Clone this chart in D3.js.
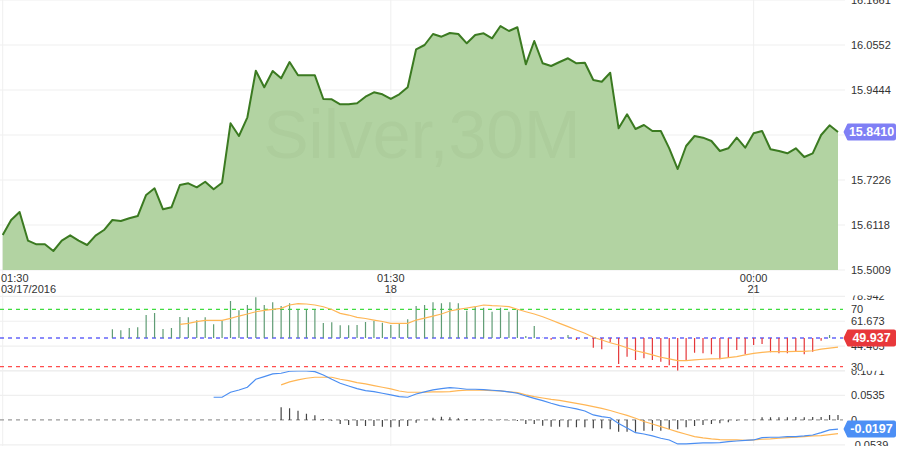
<!DOCTYPE html>
<html>
<head>
<meta charset="utf-8">
<script src="https://cdn.jsdelivr.net/npm/d3@7"></script>
<style>
html,body{margin:0;padding:0;background:#fff;}
svg{display:block;font-family:"Liberation Sans",Arial,sans-serif;}
</style>
</head>
<body>
<svg id="chart" width="900" height="451"></svg>
<script>
// ---------------- DATA ----------------
const symbolLabel = "Silver,30M";
const price = [
15.5871,15.6241,15.6438,15.5731,15.5642,15.5642,15.5477,15.5731,15.5864,15.5731,
15.5625,15.5854,15.5994,15.6241,15.6216,15.6283,15.6339,15.6857,15.7022,15.6504,
15.6554,15.7103,15.7145,15.7046,15.7184,15.6997,15.7160,15.8623,15.8310,15.8771,
15.9919,15.9510,15.9912,15.9732,16.0133,15.9806,15.9806,15.9806,15.9222,15.9215,
15.9091,15.9091,15.9116,15.9279,15.9387,15.9338,15.9222,15.9338,15.9510,16.0446,
16.0552,16.0823,16.0757,16.0848,16.0823,16.0594,16.0799,16.0841,16.0717,16.1020,
16.0897,16.0989,16.0077,16.0651,16.0101,16.0035,16.0133,16.0225,16.0101,16.0116,
15.9690,15.9648,15.9870,15.8500,15.8845,15.8483,15.8581,15.8434,15.8434,15.8007,
15.7497,15.8064,15.8310,15.8269,15.8187,15.7941,15.8007,15.8269,15.8022,15.8377,
15.8434,15.7983,15.7941,15.7884,15.8007,15.7793,15.7884,15.8335,15.8574,15.8410
];
const rsi = [
null,null,null,null,null,null,null,null,null,null,null,null,null,
56.1,55.4,57.0,57.5,66.0,67.4,56.3,57.0,64.6,64.4,62.3,64.4,59.5,62.1,75.8,69.3,73.0,
78.4,73.0,74.9,72.3,74.2,70.0,70.0,70.0,60.5,60.9,58.9,58.9,59.1,61.1,61.8,60.7,59.1,
60.2,63.0,72.3,73.0,74.9,74.2,74.9,74.2,69.0,71.8,71.1,68.3,71.1,68.3,69.5,51.4,58.4,
50.2,48.8,50.2,52.1,48.6,50.2,43.2,42.2,47.0,31.9,37.0,34.7,35.9,34.7,33.5,31.0,27.2,
34.7,39.8,39.3,38.6,35.2,36.6,41.6,38.6,45.1,45.8,40.0,39.3,39.3,40.5,38.6,40.5,48.1,
52.1,49.937
];
const rsiMA = [
null,null,null,null,null,null,null,null,null,null,null,null,null,null,null,null,null,null,null,null,null,
59.5,60.2,61.4,62.3,62.3,62.3,63.7,65.3,66.7,68.3,
69.3,70.0,70.7,73.0,73.9,73.7,73.0,71.8,69.9,67.2,
66.0,64.4,63.6,62.5,61.5,60.2,60.2,60.2,62.5,63.9,
65.3,66.7,68.8,70.0,70.9,71.8,73.0,72.5,72.3,71.8,
70.0,68.3,66.7,64.8,62.5,60.2,57.9,55.6,53.3,50.5,
48.6,46.7,45.1,43.2,41.1,39.8,38.2,36.6,35.4,34.2,
34.2,34.7,35.2,35.4,35.6,36.3,37.0,38.2,39.3,40.0,
40.5,40.5,40.5,40.7,40.7,41.1,42.3,43.0,43.7
];
const macd = [
null,null,null,null,null,null,null,null,null,null,null,null,null,null,null,null,null,null,null,null,null,null,null,null,null,
0.0493,0.0493,0.0601,0.0651,0.0710,0.0883,0.0940,0.0998,0.1013,0.1057,
0.1063,0.1063,0.1048,0.0977,0.0883,0.0796,0.0738,0.0679,0.0636,0.0614,
0.0579,0.0543,0.0506,0.0493,0.0564,0.0608,0.0651,0.0679,0.0701,0.0688,
0.0666,0.0666,0.0658,0.0645,0.0629,0.0608,0.0579,0.0521,0.0470,0.0419,
0.0362,0.0310,0.0276,0.0239,0.0195,0.0109,0.0072,0.0048,-0.0076,-0.0174,
-0.0276,-0.0304,-0.0347,-0.0397,-0.0434,-0.0521,-0.0521,-0.0506,-0.0499,-0.0499,
-0.0493,-0.0471,-0.0456,-0.0441,-0.0434,-0.0384,-0.0375,-0.0375,-0.0362,-0.0362,
-0.0347,-0.0326,-0.0276,-0.0217,-0.0197
];
const signal = [
null,null,null,null,null,null,null,null,null,null,null,null,null,null,null,null,null,null,null,null,
null,null,null,null,null,null,null,null,null,null,null,null,null,
0.0760,0.0825,0.0868,0.0905,0.0927,0.0927,0.0927,0.0883,0.0853,0.0809,
0.0781,0.0744,0.0710,0.0673,0.0629,0.0601,0.0601,0.0601,0.0608,0.0608,
0.0614,0.0636,0.0645,0.0645,0.0645,0.0636,0.0629,0.0608,0.0592,0.0543,
0.0506,0.0477,0.0445,0.0423,0.0391,0.0358,0.0326,0.0289,0.0250,0.0206,
0.0152,0.0098,0.0037,-0.0033,-0.0087,-0.0145,-0.0202,-0.0260,-0.0310,-0.0360,
-0.0390,-0.0412,-0.0425,-0.0430,-0.0434,-0.0441,-0.0434,-0.0419,-0.0412,-0.0397,
-0.0384,-0.0375,-0.0362,-0.0347,-0.0341,-0.0319,-0.0297
];
const hist = [
null,null,null,null,null,null,null,null,null,null,null,null,null,null,null,null,null,null,null,null,
null,null,null,null,null,null,null,null,null,null,null,null,null,
0.0276,0.0254,0.0202,0.0135,0.0102,0.0022,-0.0015,-0.0087,-0.0108,-0.0130,
-0.0130,-0.0130,-0.0145,-0.0158,-0.0145,-0.0130,-0.0058,0.0000,0.0050,0.0072,
0.0058,0.0036,0.0020,0.0010,0.0010,-0.0010,0.0010,-0.0010,-0.0020,-0.0087,
-0.0087,-0.0124,-0.0145,-0.0145,-0.0158,-0.0158,-0.0158,-0.0180,-0.0180,-0.0202,
-0.0254,-0.0254,-0.0254,-0.0232,-0.0232,-0.0232,-0.0202,-0.0202,-0.0158,-0.0130,
-0.0109,-0.0087,-0.0072,-0.0050,-0.0015,0.0005,0.0010,0.0059,0.0059,0.0059,
0.0059,0.0065,0.0059,0.0065,0.0065,0.0109,0.0109
];
const timeTickIndex = [0, 46, 89];
const timeTickTop = ["01:30", "01:30", "00:00"];
const timeTickBottom = ["03/17/2016", "18", "21"];
const priceTicks = [15.5009, 15.6118, 15.7226, 15.8335, 15.9444, 16.0552, 16.1661];
const rsiTicks = [78.942, 61.673, 44.405];
const rsiGrid = [78.942, 61.673, 44.405, 27.136];
const rsiLevels = [70, 50, 30];
const macdTicks = [0.1071, 0.0535, 0, -0.0539];
const lastPrice = 15.8410, lastRsi = 49.937, lastMacd = -0.0197;

// ---------------- SCALES ----------------
const svg = d3.select("#chart");
const N = price.length;
const x = d3.scaleLinear().domain([0, N - 1]).range([2.7, 838]);
const yP = d3.scaleLinear().domain([15.5009, 16.1661]).range([270, 0]);
const yR = d3.scaleLinear().domain([30, 70]).range([366.7, 309.3]);
const yM = d3.scaleLinear().domain([-0.0539, 0.1071]).range([444.8, 370.6]);
const gridRight = 845, labelX = 851;

const defs = svg.append("defs");
defs.append("clipPath").attr("id","clipMain").append("rect").attr("x",0).attr("y",0).attr("width",900).attr("height",295);
defs.append("clipPath").attr("id","clipRsi").append("rect").attr("x",0).attr("y",295.5).attr("width",900).attr("height",75.3);
defs.append("clipPath").attr("id","clipMacd").append("rect").attr("x",0).attr("y",370.8).attr("width",900).attr("height",75.2);

const gridColor = "#efefef";
svg.append("g").selectAll("line").data(timeTickIndex).join("line")
  .attr("x1", d => x(d)).attr("x2", d => x(d)).attr("y1", 0).attr("y2", 446)
  .attr("stroke", gridColor).attr("stroke-width", 1);

svg.append("g").selectAll("line").data(priceTicks).join("line")
  .attr("x1", 0).attr("x2", gridRight).attr("y1", d => yP(d)).attr("y2", d => yP(d))
  .attr("stroke", gridColor).attr("stroke-width", 1.2);
svg.append("g").selectAll("line").data(rsiGrid).join("line")
  .attr("x1", 0).attr("x2", gridRight).attr("y1", d => yR(d)).attr("y2", d => yR(d))
  .attr("stroke", gridColor).attr("stroke-width", 1.2);
svg.append("g").selectAll("line").data(macdTicks.filter(d => d !== 0)).join("line")
  .attr("x1", 0).attr("x2", gridRight).attr("y1", d => yM(d)).attr("y2", d => yM(d))
  .attr("stroke", gridColor).attr("stroke-width", 1.2);

// ---------------- MAIN PRICE ----------------
const idx = d3.range(N);
const area = d3.area().x(i => x(i)).y0(yP(15.5009)).y1(i => yP(price[i]));
const line = d3.line().x(i => x(i)).y(i => yP(price[i]));
svg.append("path").attr("d", area(idx)).attr("fill", "#b2d3a2");
svg.append("text").attr("x", 422).attr("y", 158).attr("text-anchor", "middle")
  .attr("font-size", 68).attr("fill", "rgba(40,80,20,0.04)").text(symbolLabel);
svg.append("path").attr("d", line(idx)).attr("fill", "none")
  .attr("stroke", "#3b7a21").attr("stroke-width", 2).attr("stroke-linejoin", "round");

svg.append("g").attr("clip-path","url(#clipMain)").selectAll("text").data(priceTicks).join("text")
  .attr("x", labelX).attr("y", d => yP(d) + 4).attr("font-size", 11).attr("fill", "#333")
  .text(d => d.toFixed(4));

const tg = svg.append("g");
timeTickIndex.forEach((ti, k) => {
  const anchor = k === 0 ? "start" : "middle";
  const xx = k === 0 ? 1 : x(ti);
  tg.append("text").attr("x", xx).attr("y", 281.5).attr("text-anchor", anchor)
    .attr("font-size", 11).attr("fill", "#333").text(timeTickTop[k]);
  tg.append("text").attr("x", xx).attr("y", 292.5).attr("text-anchor", anchor)
    .attr("font-size", 11).attr("fill", "#333").text(timeTickBottom[k]);
});

// ---------------- RSI PANE ----------------
const gR = svg.append("g").attr("clip-path","url(#clipRsi)");
const levelColors = {70: "#3fdc3f", 50: "#1818f5", 30: "#ff4d4d"};
gR.selectAll("line.lvl").data(rsiLevels).join("line").attr("class","lvl")
  .attr("x1", 0).attr("x2", 843).attr("y1", d => yR(d)).attr("y2", d => yR(d))
  .attr("stroke", d => levelColors[d]).attr("stroke-width", 1.2).attr("stroke-dasharray", "4,4");
gR.selectAll("line.bar").data(idx.filter(i => rsi[i] != null)).join("line").attr("class","bar")
  .attr("x1", i => x(i)).attr("x2", i => x(i))
  .attr("y1", yR(50)).attr("y2", i => yR(rsi[i]))
  .attr("stroke", i => rsi[i] >= 50 ? "#5f9c74" : "#e5383a").attr("stroke-width", 1.2);
gR.append("path").attr("d", d3.line().defined(i => rsiMA[i] != null).x(i => x(i)).y(i => yR(rsiMA[i]))(idx))
  .attr("fill", "none").attr("stroke", "#ffb655").attr("stroke-width", 1.2);
gR.selectAll("text.tk").data(rsiTicks).join("text").attr("class","tk")
  .attr("x", labelX).attr("y", d => yR(d) + 4).attr("font-size", 11).attr("fill", "#333")
  .text(d => d.toFixed(3));
gR.selectAll("text.lv").data([70, 30]).join("text").attr("class","lv")
  .attr("x", labelX).attr("y", d => yR(d) + 4).attr("font-size", 11).attr("fill", "#333")
  .text(d => d);

// ---------------- MACD PANE ----------------
const gM = svg.append("g").attr("clip-path","url(#clipMacd)");
gM.append("line").attr("x1", 0).attr("x2", 843).attr("y1", yM(0)).attr("y2", yM(0))
  .attr("stroke", "#9a9a9a").attr("stroke-width", 1.2).attr("stroke-dasharray", "4,4");
gM.selectAll("line.h").data(idx.filter(i => hist[i] != null)).join("line").attr("class","h")
  .attr("x1", i => x(i)).attr("x2", i => x(i)).attr("y1", yM(0)).attr("y2", i => yM(hist[i]))
  .attr("stroke", "#444").attr("stroke-width", 1.2);
gM.append("path").attr("d", d3.line().defined(i => signal[i] != null).x(i => x(i)).y(i => yM(signal[i]))(idx))
  .attr("fill", "none").attr("stroke", "#ffb655").attr("stroke-width", 1.2);
gM.append("path").attr("d", d3.line().defined(i => macd[i] != null).x(i => x(i)).y(i => yM(macd[i]))(idx))
  .attr("fill", "none").attr("stroke", "#4b8ef2").attr("stroke-width", 1.2);
gM.selectAll("text.tk").data(macdTicks).join("text").attr("class","tk")
  .attr("x", labelX).attr("y", d => yM(d) + 4).attr("font-size", 11).attr("fill", "#333")
  .text(d => d === 0 ? "0" : d.toFixed(4));

// ---------------- BADGES ----------------
function badge(yc, txt, color) {
  const h = 17, x0 = 847, x1 = 896, tip = 843.5;
  const p = `M${tip},${yc} L${x0},${yc - h / 2 + 1} Q${x0},${yc - h / 2} ${x0 + 1.5},${yc - h / 2}
    L${x1 - 2},${yc - h / 2} Q${x1},${yc - h / 2} ${x1},${yc - h / 2 + 2} L${x1},${yc + h / 2 - 2}
    Q${x1},${yc + h / 2} ${x1 - 2},${yc + h / 2} L${x0 + 1.5},${yc + h / 2} Q${x0},${yc + h / 2} ${x0},${yc + h / 2 - 1} Z`;
  svg.append("path").attr("d", p).attr("fill", color);
  svg.append("text").attr("x", (x0 + x1) / 2).attr("y", yc + 4.3).attr("text-anchor", "middle")
    .attr("font-size", 12.5).attr("font-weight", "bold").attr("fill", "#fff").text(txt);
}
badge(yP(lastPrice), lastPrice.toFixed(4), "#7f7ff5");
badge(yR(lastRsi), lastRsi.toFixed(3), "#e8383b");
badge(yM(lastMacd), lastMacd.toFixed(4), "#4c8ff5");
</script>
</body>
</html>
